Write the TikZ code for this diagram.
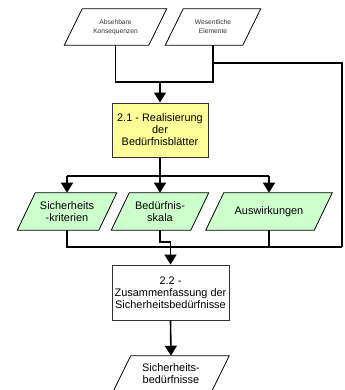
\documentclass[tikz,border=0pt]{standalone}
\usepackage{fontspec}
\setmainfont{Liberation Sans}
\usetikzlibrary{arrows.meta,backgrounds}

\definecolor{procyellow}{HTML}{FFFF99}
\definecolor{datagreen}{HTML}{CCFFCC}
\definecolor{framegray}{HTML}{333333}
\definecolor{smalltext}{HTML}{333333}

% parallelogram outline behind a named (invisible) node
\newcommand\paraoutline[2]{%
  \begin{pgfonlayer}{background}
    \filldraw[draw=black, fill=#2, line width=0.6pt, line join=miter]
      ([xshift=6.75pt]#1.north west) -- ([xshift=6.75pt]#1.north east) --
      ([xshift=-6.75pt]#1.south east) -- ([xshift=-6.75pt]#1.south west) -- cycle;
  \end{pgfonlayer}}

\begin{document}
\begin{tikzpicture}[x=0.75pt, y=-0.75pt,
  iobox/.style={draw=none, inner sep=0pt, align=center, minimum height=27pt,
    font=\fontsize{8.2}{9}\selectfont},
  smallio/.style={iobox, font=\fontsize{5}{6.75}\selectfont, text=smalltext},
  procbox/.style={draw=framegray, line width=0.75pt, inner sep=0pt, align=center,
    font=\fontsize{8.2}{9}\selectfont},
  link/.style={line width=1.2pt, line join=miter},
  flow/.style={link, -{Triangle[width=9pt, length=7.5pt]}}]

\useasboundingbox (0,0) rectangle (345,390);

% input data
\node[smallio, minimum width=63pt] (abs) at (115.5,27) {Absehbare\\Konsequenzen};
\node[smallio, minimum width=57.75pt] (wes) at (213,27) {Wesentliche\\Elemente};
\paraoutline{abs}{white}
\paraoutline{wes}{white}

% process 2.1
\node[procbox, fill=procyellow, minimum width=72pt, minimum height=40.5pt] (real) at (160,130)
  {2.1 - Realisierung\\der\\Bedürfnisblätter};

% intermediate results
\node[iobox, minimum width=60.75pt, minimum height=27.75pt] (krit) at (67,211.5) {Sicherheits\\-kriterien};
\node[iobox, minimum width=59.25pt, minimum height=27.75pt] (skala) at (160,211.5) {Bedürfnis-\\skala};
\node[iobox, minimum width=81pt, minimum height=27.75pt] (ausw) at (269,211.5) {Auswirkungen};
\paraoutline{krit}{datagreen}
\paraoutline{skala}{datagreen}
\paraoutline{ausw}{datagreen}

% process 2.2
\node[procbox, fill=white, minimum width=87.75pt, minimum height=41.25pt] (zus) at (170.5,292.5)
  {2.2 -\\Zusammenfassung der\\Sicherheitsbedürfnisse};

% output
\node[iobox, minimum width=73.5pt] (out) at (171,374) {Sicherheits-\\bedürfnisse};
\paraoutline{out}{white}

% junction points
\coordinate (inJoin) at (real.north |- 0,82);
\coordinate (sideTop) at (342,63);
\coordinate (sideBot) at (342,247);
\coordinate (fan) at (real.south |- 0,176);
\coordinate (collect) at (zus.north |- 0,247);

% inputs into 2.1
\draw[link] (abs.south) -- (abs.south |- inJoin) -- (wes.south |- inJoin) -- (wes.south);
\draw[flow] (inJoin) -- (real.north);

% Wesentliche Elemente bypass to 2.2
\draw[link] (wes.south |- sideTop) -- (sideTop) -- (sideBot);

% 2.1 fans out to its results
\draw[link] (real.south) -- (fan);
\draw[link] (krit.north |- fan) -- (ausw.north |- fan);
\draw[flow] (krit.north |- fan) -- (krit.north);
\draw[flow] (fan) -- (skala.north);
\draw[flow] (ausw.north |- fan) -- (ausw.north);

% results collected into 2.2
\draw[link] (krit.south) -- (krit.south |- collect) -- (sideBot);
\draw[link] (ausw.south) -- (ausw.south |- collect);
\draw[link] (skala.south) -- (skala.south |- 0,242) -- (zus.north |- 0,242) -- (collect);
\draw[flow] (collect) -- (zus.north);

% 2.2 to output
\draw[flow] (zus.south) -- (out.north);

\end{tikzpicture}
\end{document}
